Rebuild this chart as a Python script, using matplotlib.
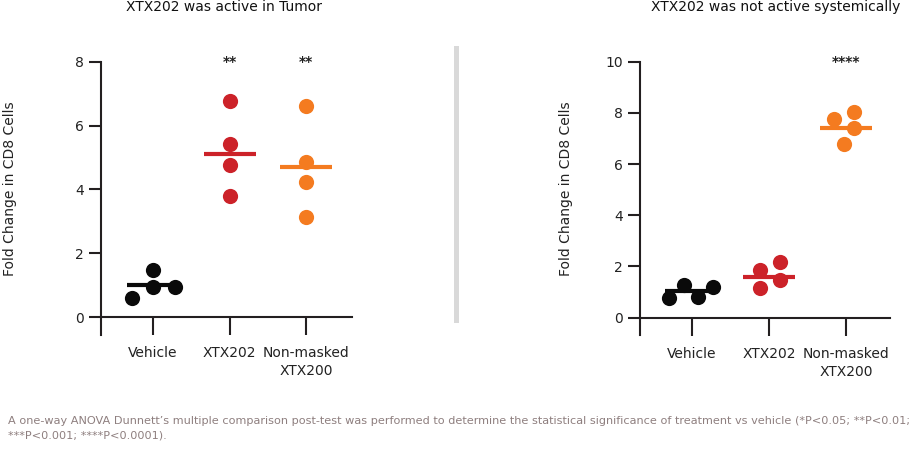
import matplotlib
matplotlib.use("Agg")
import matplotlib.pyplot as plt
from matplotlib.lines import Line2D

groups = ["Vehicle", "XTX202", "Non-masked\nXTX200"]
colors = ["#0a0a0a", "#cc2229", "#f47b20"]

# tumor panel
tumor_vals = [[0.61, 1.47, 0.95, 0.95],
              [6.79, 5.43, 4.76, 3.78],
              [6.62, 4.85, 4.22, 3.13]]
tumor_means = [1.0, 5.10, 4.69]
tumor_stars = ["", "**", "**"]

# systemic panel
sys_vals = [[0.78, 1.28, 0.82, 1.19],
            [1.86, 2.16, 1.15, 1.45],
            [7.75, 8.02, 7.40, 6.78]]
sys_means = [1.02, 1.60, 7.40]
sys_stars = ["", "", "****"]

# horizontal dodge of the dots (scatter-dot layout)
tumor_dodge = [[-0.27, 0.0, 0.0, 0.29], [0, 0, 0, 0], [0, 0, 0, 0]]
sys_dodge = [[-0.29, -0.10, 0.08, 0.28], [-0.11, 0.15, -0.11, 0.15],
             [-0.16, 0.10, 0.10, -0.03]]

plt.rcParams['font.family'] = ['DejaVu Sans']
axc = "#231f20"

fig = plt.figure(figsize=(9.14, 4.5), dpi=100)


def panel(rect, vals, means, stars, dodge, ylim, yticks, xlim, title_x, title):
    ax = fig.add_axes(rect)
    for i, (v, m) in enumerate(zip(vals, means)):
        xs = [i + d for d in dodge[i]]
        ax.scatter(xs, v, s=120, color=colors[i], zorder=3, linewidths=0)
        ax.plot([i - 0.34, i + 0.34], [m, m], color=colors[i], lw=3, zorder=4,
                solid_capstyle='butt')
        if stars[i]:
            ax.text(i, ylim[1], stars[i], ha='center', va='center',
                    fontsize=10, fontweight='bold', color='#222222')
    ax.set_xlim(*xlim)
    ax.set_ylim(*ylim)
    ax.spines['top'].set_visible(False)
    ax.spines['right'].set_visible(False)
    ax.spines['bottom'].set_position(('data', 0))
    for s in ('left', 'bottom'):
        ax.spines[s].set_linewidth(1.5)
        ax.spines[s].set_color(axc)
    ax.set_yticks(yticks)
    ax.set_xticks(range(len(groups)))
    ax.set_xticklabels(groups, linespacing=1.35)
    ax.tick_params(axis='y', length=8.5, width=1.5, color=axc, pad=4,
                   labelsize=10, labelcolor='#222222')
    ax.tick_params(axis='x', length=13, width=1.5, color=axc, pad=8,
                   labelsize=10, labelcolor='#222222')
    ax.set_ylabel("Fold Change in CD8 Cells", fontsize=10, color='#222222')
    fig.text(title_x, 0.984, title, ha='center', va='center', fontsize=10,
             color='#111111')
    return ax


ax1 = panel([0.1105, 0.2556, 0.2746, 0.6067], tumor_vals, tumor_means,
            tumor_stars, tumor_dodge, (-0.564, 8), [0, 2, 4, 6, 8],
            (-0.68, 2.60), 0.245, "XTX202 was active in Tumor")
ax1.yaxis.set_label_coords(-0.335, 0.535)

ax2 = panel([0.7002, 0.2556, 0.2735, 0.6073], sys_vals, sys_means,
            sys_stars, sys_dodge, (-0.68, 10), [0, 2, 4, 6, 8, 10],
            (-0.67, 2.57), 0.849, "XTX202 was not active systemically")
ax2.yaxis.set_label_coords(-0.268, 0.535)

# grey divider between panels
fig.add_artist(Line2D([455.7 / 914, 455.7 / 914], [1 - 48 / 450, 1 - 320 / 450],
                      transform=fig.transFigure, color='#d9d9d9', lw=3.6))

note = ("A one-way ANOVA Dunnett\u2019s multiple comparison post-test was performed to "
        "determine the statistical significance of treatment vs vehicle (*P<0.05; **P<0.01;\n"
        "***P<0.001; ****P<0.0001).")
fig.text(8 / 914, 1 - 416 / 450, note, ha='left', va='top', fontsize=8.1,
         color='#8e7f7f', linespacing=1.6)

fig.savefig("out.png", dpi=100)
